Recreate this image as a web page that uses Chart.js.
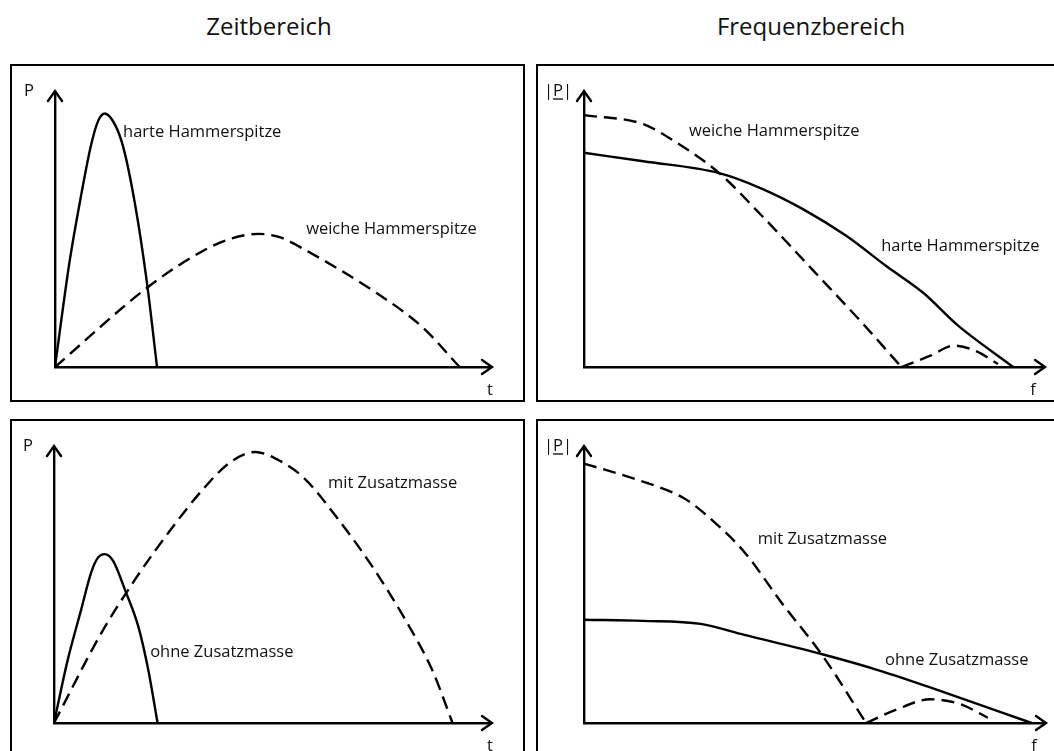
<!DOCTYPE html>
<html>
<head>
<meta charset="utf-8">
<script src="https://cdn.jsdelivr.net/npm/chart.js@4.4.1/dist/chart.umd.min.js"></script>
<style>
body { margin: 0; width: 1054px; height: 751px; overflow: hidden; background: #fff; position: relative; font-family: "Open Sans", sans-serif; }
.title { position: absolute; top: 10px; font-size: 24px; line-height: 32px; color: #111; transform: translateX(-50%); white-space: nowrap; }
.panel { position: absolute; border: 2px solid #000; box-sizing: border-box; }
.panel canvas { position: absolute; left: 0; top: 0; }
</style>
</head>
<body>
<div class="title" style="left:269px">Zeitbereich</div>
<div class="title" style="left:811px">Frequenzbereich</div>

<div class="panel" style="left:10px;top:64px;width:515px;height:338px"><canvas id="zeitOben" width="511" height="334"></canvas></div>
<div class="panel" style="left:536px;top:64px;width:530px;height:338px"><canvas id="freqOben" width="526" height="334"></canvas></div>
<div class="panel" style="left:10px;top:419px;width:515px;height:345px"><canvas id="zeitUnten" width="511" height="341"></canvas></div>
<div class="panel" style="left:536px;top:419px;width:530px;height:345px"><canvas id="freqUnten" width="526" height="341"></canvas></div>

<script>

// oben links: Zeitbereich, Hammerspitzen
const zeitHartX = [0, 3.3, 6.0, 8.3, 9.9, 11.4, 13.7, 15.7, 18.4, 21.1, 23.4];
const zeitHartY = [0, 37.9, 62.5, 80.9, 89.5, 92.2, 88.3, 79.7, 58.8, 30.5, 0];
const zeitWeichX = [0, 21.5, 33.9, 40.0, 46.7, 51.7, 57.1, 72.6, 84.2, 92.8];
const zeitWeichY = [0, 29.3, 42.2, 46.5, 48.4, 47.1, 42.8, 28.1, 14.6, 0];

// oben rechts: Frequenzbereich, Hammerspitzen
const freqHartX = [0, 12.9, 29.4, 38.6, 47.4, 57.0, 65.7, 73.8, 81.2, 93.3];
const freqHartY = [77.9, 74.8, 70.5, 64.9, 57.6, 47.7, 36.7, 26.9, 15.2, 0];
const freqWeichX = [0, 12.9, 20.2, 29.4, 38.6, 49.6, 60.6, 69.0];
const freqWeichY = [91.6, 88.3, 81.5, 70.5, 55.1, 35.5, 15.8, 0];
const freqWeichNebenX = [69.0, 75.3, 80.4, 84.9, 90.0];
const freqWeichNebenY = [0, 4.1, 7.8, 6.0, 1.1];

// unten links: Zeitbereich, Zusatzmasse
const zeitOhneX = [0, 3.1, 6.2, 8.5, 10.1, 11.6, 13.5, 16.2, 19.3, 21.6, 23.7];
const zeitOhneY = [0, 22.6, 41.0, 54.5, 60.0, 61.2, 58.8, 48.4, 34.9, 19.0, 0];
const zeitMitX = [0, 10.8, 18.6, 26.3, 34.0, 40.2, 46.0, 51.8, 57.2, 64.9, 72.7, 80.4, 86.6, 91.2];
const zeitMitY = [0, 32.5, 52.1, 69.2, 84.5, 94.3, 98.2, 94.9, 88.8, 74.1, 57.0, 37.4, 19.0, 0];

// unten rechts: Frequenzbereich, Zusatzmasse
const freqOhneX = [0, 12.8, 25.3, 34.8, 51.7, 64.1, 75.1, 97.1];
const freqOhneY = [37.4, 37.0, 35.9, 31.9, 24.9, 19.0, 12.9, 0];
const freqMitX = [0, 11.4, 21.6, 28.2, 34.8, 42.9, 51.7, 61.2];
const freqMitY = [94.0, 88.2, 81.5, 72.9, 61.9, 43.5, 24.5, 0];
const freqMitNebenX = [61.2, 67.8, 75.1, 81.7, 87.6];
const freqMitNebenY = [0, 4.9, 8.6, 6.8, 1.9];

// Beschriftungen der Kurven [text, x, y]
const labelsZeitOben = [['harte Hammerspitze', 15.6, 85.9], ['weiche Hammerspitze', 57.6, 50.5]];
const labelsFreqOben = [['weiche Hammerspitze', 22.8, 86.2], ['harte Hammerspitze', 64.6, 44.4]];
const labelsZeitUnten = [['ohne Zusatzmasse', 22.0, 26.1], ['mit Zusatzmasse', 62.7, 87.3]];
const labelsFreqUnten = [['mit Zusatzmasse', 37.7, 67.0], ['ohne Zusatzmasse', 65.3, 23.2]];

function toPoints(xs, ys) {
    return xs.map((x, i) => ({ x: x, y: ys[i] }))
}

function curve(xs, ys, dashed) {
    return {
        data: toPoints(xs, ys),
        borderColor: '#000',
        borderWidth: 2.4,
        borderDash: dashed ? [13, 7] : [],
        pointRadius: 0,
        cubicInterpolationMode: 'monotone',
        clip: false
    }
}

const labelFont = '16.5px "Open Sans"';

const skizzePlugin = {
    id: 'skizze',
    afterDraw(chart, args, opts) {
        const ctx = chart.ctx;
        const a = chart.chartArea;
        const xs = chart.scales.x;
        const ys = chart.scales.y;
        ctx.save();
        ctx.strokeStyle = '#000';
        ctx.lineWidth = 2.4;
        ctx.lineCap = 'round';
        ctx.beginPath();
        ctx.moveTo(a.right - 9, a.bottom - 7);
        ctx.lineTo(a.right + 1, a.bottom);
        ctx.lineTo(a.right - 9, a.bottom + 7);
        ctx.moveTo(a.left - 7, a.top + 9);
        ctx.lineTo(a.left, a.top - 1);
        ctx.lineTo(a.left + 7, a.top + 9);
        ctx.stroke();

        ctx.fillStyle = '#111';
        ctx.font = labelFont;
        ctx.textBaseline = 'alphabetic';
        ctx.textAlign = 'left';
        opts.labels.forEach(l => {
            ctx.fillText(l[0], xs.getPixelForValue(l[1]), ys.getPixelForValue(l[2]) + 6);
        });

        // Achsenbezeichnungen
        ctx.textAlign = 'center';
        ctx.fillText(opts.xName, a.right + opts.xNameShift, a.bottom + 28);
        const yx = a.left - 26;
        const yy = a.top + 4;
        ctx.fillText(opts.yName, yx, yy);
        if (opts.underline) {
            const wAll = ctx.measureText(opts.yName).width;
            const wBar = ctx.measureText('|').width;
            const wP = ctx.measureText('P').width;
            const x0 = yx - wAll / 2 + wBar;
            ctx.lineWidth = 1.3;
            ctx.lineCap = 'butt';
            ctx.beginPath();
            ctx.moveTo(x0, yy + 3);
            ctx.lineTo(x0 + wP, yy + 3);
            ctx.stroke();
        }
        ctx.restore();
    }
};

function axis() {
    return {
        type: 'linear',
        min: 0,
        max: 100,
        grid: { display: false, drawTicks: false },
        ticks: { display: false },
        border: { display: true, color: '#000', width: 2.4 }
    }
}

function makePanel(id, datasets, labels, pad, xName, xNameShift, yName) {
    return new Chart(document.getElementById(id), {
        type: 'line',
        data: { datasets: datasets },
        options: {
            responsive: false,
            animation: false,
            layout: { padding: pad },
            plugins: {
                legend: { display: false },
                tooltip: { enabled: false },
                skizze: {
                    labels: labels,
                    xName: xName,
                    xNameShift: xNameShift,
                    yName: yName,
                    underline: yName != 'P'
                }
            },
            scales: { x: axis(), y: axis() }
        },
        plugins: [skizzePlugin]
    });
}

makePanel('zeitOben', [
    curve(zeitHartX, zeitHartY, false),
    curve(zeitWeichX, zeitWeichY, true)
], labelsZeitOben, { left: 43, top: 26, right: 32, bottom: 33 }, 't', -1, 'P');

makePanel('freqOben', [
    curve(freqHartX, freqHartY, false),
    curve(freqWeichX, freqWeichY, true),
    curve(freqWeichNebenX, freqWeichNebenY, true)
], labelsFreqOben, { left: 46, top: 26, right: 20, bottom: 33 }, 'f', -11, '|P|');

makePanel('zeitUnten', [
    curve(zeitOhneX, zeitOhneY, false),
    curve(zeitMitX, zeitMitY, true)
], labelsZeitUnten, { left: 42, top: 26, right: 32, bottom: 39 }, 't', -1, 'P');

makePanel('freqUnten', [
    curve(freqOhneX, freqOhneY, false),
    curve(freqMitX, freqMitY, true),
    curve(freqMitNebenX, freqMitNebenY, true)
], labelsFreqUnten, { left: 46, top: 26, right: 19, bottom: 39 }, 'f', -11, '|P|');
</script>
</body>
</html>
